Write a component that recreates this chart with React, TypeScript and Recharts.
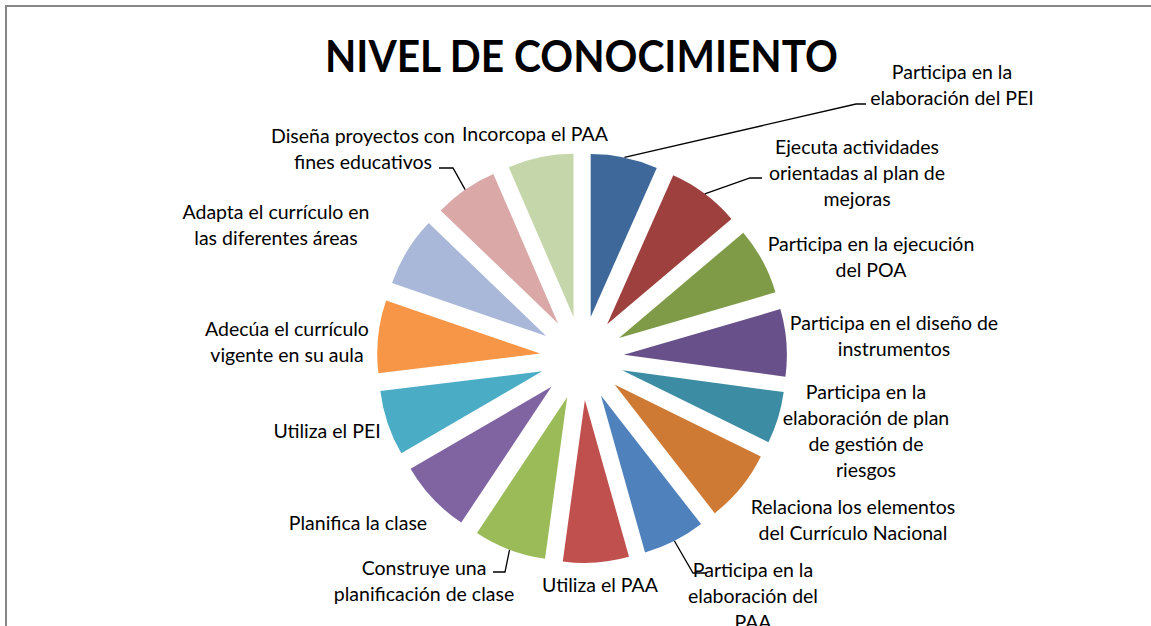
import React from 'react';
import { PieChart, Pie, Sector } from 'recharts';

// ---------- data ----------
const CATEGORIES = [
  'Participa en la elaboración del PEI',
  'Ejecuta actividades orientadas al plan de mejoras',
  'Participa en la ejecución del POA',
  'Participa en el diseño de instrumentos',
  'Participa en la elaboración de plan de gestión de riesgos',
  'Relaciona los elementos del Currículo Nacional',
  'Participa en la elaboración del PAA',
  'Utiliza el PAA',
  'Construye una planificación de clase',
  'Planifica la clase',
  'Utiliza el PEI',
  'Adecúa el currículo vigente en su aula',
  'Adapta el currículo en las diferentes áreas',
  'Diseña proyectos con fines educativos',
  'Incorcopa el PAA',
];

const VALUES = [23.9, 25.8, 24.0, 24.0, 18.5, 25.9, 22.2, 23.5, 25.8, 26.2, 23.3, 25.9, 24.9, 22.7, 23.4];

const LABEL_LINES = [
  ['Participa en la', 'elaboración del PEI'],
  ['Ejecuta actividades', 'orientadas al plan de', 'mejoras'],
  ['Participa en la ejecución', 'del POA'],
  ['Participa en el diseño de', 'instrumentos'],
  ['Participa en la', 'elaboración de plan', 'de gestión de', 'riesgos'],
  ['Relaciona los elementos', 'del Currículo Nacional'],
  ['Participa en la', 'elaboración del', 'PAA'],
  ['Utiliza el PAA'],
  ['Construye una', 'planificación de clase'],
  ['Planifica la clase'],
  ['Utiliza el PEI'],
  ['Adecúa el currículo', 'vigente en su aula'],
  ['Adapta el currículo en', 'las diferentes áreas'],
  ['Diseña proyectos con', 'fines educativos'],
  ['Incorcopa el PAA'],
];

const TITLE = 'NIVEL DE CONOCIMIENTO';

const COLORS = [
  '#3E6899', '#9D403E', '#7F9B48', '#68518A', '#3C8DA3', '#CE7A34',
  '#4F81BD', '#C0504D', '#9BBB59', '#8064A2', '#4BACC6', '#F79646',
  '#A9B8D8', '#D9A8A7', '#C6D6AB',
];

const data = CATEGORIES.map((name, i) => ({ name, value: VALUES[i] }));

// ---------- layout ----------
const W = 1151;
const H = 626;
const CX = 582;
const CY = 358;
const RADIUS = 163;
const EXPLODE = 42;
const LINE_H = 26;
const FONT = 'Lato, "Open Sans", sans-serif';
const LABEL_SIZE = 19.5;

// label anchors: centre x, centre y of first line
const LABEL_ANCHORS: [number, number][] = [
  [952, 72], [857, 147], [871, 244], [894, 323], [866, 392], [853, 507],
  [753, 570], [600, 585], [424, 568], [358, 523], [327, 431], [287, 329],
  [276, 212], [363, 136], [535, 134],
];

// leader lines: elbow and end relative to label anchor
const LEADERS: Record<number, [number, number, number, number]> = {
  0: [-96, 32, -86, 32],
  1: [-107, 31, -95, 31],
  6: [-60, 3, -47, 3],
  8: [81, 4, 69, 4],
  13: [90, 32, 76, 32],
};

const RAD = Math.PI / 180;

const renderSlice = (props: any) => {
  const { cx, cy, outerRadius, startAngle, endAngle, index } = props;
  const mid = props.midAngle ?? (startAngle + endAngle) / 2;
  const ux = Math.cos(-mid * RAD);
  const uy = Math.sin(-mid * RAD);
  const ox = cx + EXPLODE * ux;
  const oy = cy + EXPLODE * uy;
  const px = ox + outerRadius * ux;
  const py = oy + outerRadius * uy;
  const [ax, ay] = LABEL_ANCHORS[index];
  const lead = LEADERS[index];
  return (
    <g key={`slice-${index}`}>
      <Sector
        cx={ox}
        cy={oy}
        innerRadius={0}
        outerRadius={outerRadius}
        startAngle={startAngle}
        endAngle={endAngle}
        fill={COLORS[index]}
        stroke="none"
      />
      {lead && (
        <polyline
          points={`${px},${py} ${ax + lead[0]},${ay + lead[1]} ${ax + lead[2]},${ay + lead[3]}`}
          fill="none"
          stroke="#000"
          strokeWidth={1.3}
        />
      )}
      <text
        textAnchor="middle"
        fontFamily={FONT}
        fontSize={LABEL_SIZE}
        fill="#000"
      >
        {LABEL_LINES[index].map((ln, k) => (
          <tspan key={k} x={ax} y={ay + 6.5 + k * LINE_H}>
            {ln}
          </tspan>
        ))}
      </text>
    </g>
  );
};

export default function App() {
  return (
    <div
      style={{
        position: 'absolute',
        left: 0,
        top: 0,
        width: W,
        height: H,
        overflow: 'hidden',
        background: '#fff',
      }}
    >
      <div
        style={{
          position: 'absolute',
          left: 5,
          top: 5,
          width: 1300,
          height: 800,
          border: '2px solid #878787',
          boxSizing: 'border-box',
        }}
      />
      <div style={{ position: 'absolute', left: 0, top: 0 }}>
        <PieChart width={W} height={H} margin={{ top: 0, right: 0, bottom: 0, left: 0 }}>
          <text
            x={581.5}
            y={72}
            textAnchor="middle"
            fontFamily={FONT}
            fontWeight={700}
            fontSize={44}
            textLength={513}
            lengthAdjust="spacingAndGlyphs"
            fill="#000"
          >
            {TITLE}
          </text>
          <Pie
            data={data}
            dataKey="value"
            nameKey="name"
            cx={CX}
            cy={CY}
            innerRadius={0}
            outerRadius={RADIUS}
            startAngle={90}
            endAngle={-270}
            fill="none"
            stroke="none"
            label={renderSlice}
            labelLine={false}
            isAnimationActive={false}
          />
        </PieChart>
      </div>
    </div>
  );
}
